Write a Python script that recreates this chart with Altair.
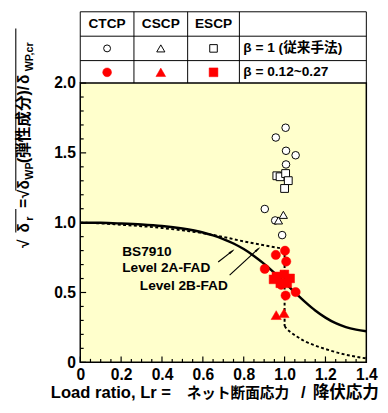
import altair as alt
import pandas as pd

FONT = "Liberation Sans, Arial, Noto Sans CJK JP, sans-serif"

# ---------------- data ----------------
# BS7910 Level 2A-FAD (solid)
lr_2a = [0, 0.1, 0.2, 0.3, 0.4, 0.5, 0.6, 0.65, 0.7, 0.75, 0.8, 0.85, 0.9, 0.95,
         1.0, 1.05, 1.1, 1.15, 1.2, 1.25, 1.3, 1.35, 1.4]
fr_2a = [1.0, 0.999, 0.994, 0.987, 0.976, 0.958, 0.930, 0.909, 0.883, 0.851, 0.811,
         0.762, 0.705, 0.641, 0.572, 0.501, 0.433, 0.371, 0.320, 0.280, 0.252, 0.234, 0.222]
# Level 2B-FAD (dotted), upper branch, drop at Lr = 1, lower branch
lr_2b_up = [0, 0.1, 0.2, 0.3, 0.4, 0.5, 0.6, 0.7, 0.8, 0.9, 1.0]
fr_2b_up = [1.0, 0.995, 0.985, 0.975, 0.962, 0.945, 0.925, 0.898, 0.866, 0.838, 0.812]
lr_2b_lo = [1.0, 1.01, 1.03, 1.06, 1.1, 1.15, 1.2, 1.27, 1.33, 1.4]
fr_2b_lo = [0.26, 0.24, 0.215, 0.185, 0.15, 0.12, 0.095, 0.065, 0.045, 0.028]
drop_lr = [1.0]
drop_top = [0.812]
drop_bot = [0.26]

# beta = 1 (open symbols)
ctcp_b1_lr = [1.005, 0.957, 1.007, 1.054, 1.007, 0.903, 0.988, 0.954]
ctcp_b1_fr = [1.680, 1.610, 1.515, 1.483, 1.417, 1.098, 0.911, 1.016]
escp_b1_lr = [0.962, 0.978, 1.005, 1.018, 1.000]
escp_b1_fr = [1.336, 1.329, 1.352, 1.301, 1.245]
cscp_b1_lr = [0.994, 0.970]
cscp_b1_fr = [1.056, 1.016]
# beta = 0.12~0.27 (red filled symbols)
ctcp_b2_lr = [1.002, 0.957, 1.008, 0.903, 0.983, 1.054, 1.005]
ctcp_b2_fr = [0.799, 0.769, 0.722, 0.669, 0.555, 0.503, 0.478]
escp_b2_lr = [0.960, 0.999, 1.027, 0.979, 1.013, 0.946]
escp_b2_fr = [0.615, 0.629, 0.601, 0.566, 0.566, 0.594]
cscp_b2_lr = [0.959, 0.997]
cscp_b2_fr = [0.338, 0.352]

x_tick_vals = [0, 0.2, 0.4, 0.6, 0.8, 1.0, 1.2, 1.4]
x_minor = [0.05, 0.1, 0.15, 0.25, 0.3, 0.35, 0.45, 0.5, 0.55, 0.65, 0.7, 0.75,
           0.85, 0.9, 0.95, 1.05, 1.1, 1.15, 1.25, 1.3, 1.35]
y_tick_vals = [0, 0.5, 1.0, 1.5, 2.0]
y_minor = [0.1, 0.2, 0.3, 0.4, 0.6, 0.7, 0.8, 0.9, 1.1, 1.2, 1.3, 1.4, 1.6, 1.7, 1.8, 1.9]

col_heads = ["CTCP", "CSCP", "ESCP"]
row_labels = ["β = 1 (従来手法)", "β = 0.12~0.27"]

# ---------------- chart ----------------
W, H = 293, 286
xs = alt.Scale(domain=[0, 1.4], nice=False, zero=False)
ys = alt.Scale(domain=[0, 2.0], nice=False, zero=False)
lab_expr = "datum.value == 0 ? '0' : format(datum.value, '.1f')"

xaxis = alt.Axis(values=x_tick_vals, labelExpr=lab_expr, ticks=False, tickSize=0, domain=False,
                 grid=False, title=None, labelFont=FONT, labelFontSize=16, labelFontWeight="bold",
                 labelColor="black", labelPadding=5, labelFlush=False, labelOverlap=False)
yaxis = alt.Axis(values=y_tick_vals, labelExpr=lab_expr, ticks=False, tickSize=0, domain=False,
                 grid=False, title=None, labelFont=FONT, labelFontSize=16, labelFontWeight="bold",
                 labelColor="black", labelPadding=5, labelFlush=False, labelOverlap=False)

one = pd.DataFrame({"k": [0]})


def X(f="Lr"):
    return alt.X(f + ":Q", scale=xs, axis=xaxis)


def Y(f="fr"):
    return alt.Y(f + ":Q", scale=ys, axis=yaxis)


def line(lr, fr, dash=None, width=2.5):
    kw = dict(color="black", strokeWidth=width, interpolate="monotone")
    if dash:
        kw["strokeDash"] = dash
    return alt.Chart(pd.DataFrame({"Lr": lr, "fr": fr})).mark_line(**kw).encode(x=X(), y=Y())


def pts(lr, fr, shape, size, fill, stroke, sw=1.0):
    return alt.Chart(pd.DataFrame({"Lr": lr, "fr": fr})).mark_point(
        shape=shape, size=size, filled=True, fill=fill, stroke=stroke, strokeWidth=sw, opacity=1
    ).encode(x=X(), y=Y())


def txt(s, x, y, size, align="left", baseline="alphabetic", angle=0, color="black"):
    return alt.Chart(one).mark_text(
        text=s, align=align, baseline=baseline, angle=angle, font=FONT, fontSize=size,
        fontWeight="bold", color=color
    ).encode(x=alt.value(x), y=alt.value(y))


def rule_px(x1, y1, x2, y2, w=1.0, color="black"):
    return alt.Chart(one).mark_rule(color=color, strokeWidth=w).encode(
        x=alt.value(x1), y=alt.value(y1), x2=alt.value(x2), y2=alt.value(y2))


def sym_px(x, y, shape, size, fill, stroke, sw=1.0):
    return alt.Chart(one).mark_point(shape=shape, size=size, filled=True, fill=fill, stroke=stroke,
                                     strokeWidth=sw, opacity=1).encode(x=alt.value(x), y=alt.value(y))


layers = []
# curves
layers.append(line(lr_2a, fr_2a))
layers.append(line(lr_2b_up, fr_2b_up, dash=[3, 2.5], width=2))
layers.append(line(lr_2b_lo, fr_2b_lo, dash=[3, 2.5], width=2))
layers.append(alt.Chart(pd.DataFrame({"Lr": drop_lr, "fr": drop_top, "fr2": drop_bot})).mark_rule(
    color="black", strokeWidth=2, strokeDash=[3, 2.5]).encode(x=X(), y=Y(), y2="fr2:Q"))

# ticks (inside)
layers.append(alt.Chart(pd.DataFrame({"Lr": x_tick_vals})).mark_rule(color="black", strokeWidth=1.2).encode(
    x=X(), y=alt.value(H), y2=alt.value(H - 6)))
layers.append(alt.Chart(pd.DataFrame({"Lr": x_minor})).mark_rule(color="black", strokeWidth=1.2).encode(
    x=X(), y=alt.value(H), y2=alt.value(H - 3.5)))
layers.append(alt.Chart(pd.DataFrame({"fr": y_tick_vals})).mark_rule(color="black", strokeWidth=1.2).encode(
    y=Y(), x=alt.value(0), x2=alt.value(6)))
layers.append(alt.Chart(pd.DataFrame({"fr": y_minor})).mark_rule(color="black", strokeWidth=1.2).encode(
    y=Y(), x=alt.value(0), x2=alt.value(3.5)))

# arrows
arrow_df = pd.DataFrame({"Lr": [0.675, 0.731], "fr": [0.718, 0.624],
                         "Lr2": [0.745, 0.872], "fr2": [0.798, 0.814]})
layers.append(alt.Chart(arrow_df).mark_rule(color="black", strokeWidth=1.2).encode(
    x=X(), y=Y(), x2="Lr2:Q", y2="fr2:Q"))
head_df = pd.DataFrame({"Lr": [0.737, 0.864], "fr": [0.789, 0.803], "ang": [52, 48]})
layers.append(alt.Chart(head_df).mark_point(shape="wedge", size=45, filled=True, fill="black",
                                            stroke="black", strokeWidth=0.5, opacity=1).encode(
    x=X(), y=Y(), angle=alt.Angle("ang:Q", scale=None)))

# data points
layers.append(pts(ctcp_b1_lr, ctcp_b1_fr, "circle", 60, "white", "black"))
layers.append(pts(escp_b1_lr, escp_b1_fr, "square", 64, "white", "black"))
layers.append(pts(cscp_b1_lr, cscp_b1_fr, "triangle-up", 70, "white", "black"))
layers.append(pts(escp_b2_lr, escp_b2_fr, "square", 81, "red", "red", 0.5))
layers.append(pts(ctcp_b2_lr, ctcp_b2_fr, "circle", 90, "red", "red", 0.5))
layers.append(pts(cscp_b2_lr, cscp_b2_fr, "triangle-up", 110, "red", "red", 0.5))

# curve labels
layers.append(txt("BS7910", 43, 177, 14))
layers.append(txt("Level 2A-FAD", 43, 193, 14))
layers.append(txt("Level 2B-FAD", 61, 211.5, 14))

# legend table above the plot
for yy in [-73, -48, -23]:
    layers.append(rule_px(0, yy, W, yy, 1))
for xx in [0, 55, 110, 163, W]:
    layers.append(rule_px(xx, -73, xx, 0, 1))
for cx, s in zip([27.5, 82.5, 136.5], col_heads):
    layers.append(txt(s, cx, -60.5, 14, align="center", baseline="middle"))
layers.append(sym_px(27.5, -35.5, "circle", 50, "white", "black"))
layers.append(sym_px(82.5, -35.5, "triangle-up", 70, "white", "black"))
layers.append(sym_px(136.5, -35.5, "square", 60, "white", "black"))
layers.append(sym_px(27.5, -11, "circle", 81, "red", "red", 0.5))
layers.append(sym_px(82.5, -11, "triangle-up", 100, "red", "red", 0.5))
layers.append(sym_px(136.5, -11, "square", 81, "red", "red", 0.5))
layers.append(txt(row_labels[0], 167, -35.5, 14, baseline="middle"))
layers.append(txt(row_labels[1], 167, -11, 14, baseline="middle"))

# y-axis title (built from pieces, rotated)
A = 270
layers.append(txt("√", -52, 169, 16, angle=A))
layers.append(rule_px(-66, 153, -66.01, 129, 1.1))
layers.append(txt("δ", -52, 153, 16, angle=A))
layers.append(txt("r", -48, 141, 11, angle=A))
layers.append(txt("=", -52, 128, 16, angle=A))
layers.append(txt("√", -52, 118, 16, angle=A))
layers.append(rule_px(-66, 110, -66.01, -56, 1.1))
layers.append(txt("δ", -52, 109, 16, angle=A))
layers.append(txt("WP", -48, 99, 11, angle=A))
layers.append(txt("(弾性成分)/", -52, 82, 16, angle=A))
layers.append(txt("δ", -52, 1, 16, angle=A))
layers.append(txt("WP,cr", -48, -12, 11, angle=A))

# x-axis title (pieces)
layers.append(txt("Load ratio, Lr =", 93, 323, 17, align="right"))
layers.append(txt("ネット断面応力", 109, 323, 15))
layers.append(txt("/", 226, 323, 17))
layers.append(txt("降伏応力", 238, 323, 17))

chart = alt.layer(*layers).properties(
    width=W, height=H,
    autosize=alt.AutoSizeParams(type="none"),
    padding={"left": 74, "top": 72, "right": 14, "bottom": 45},
).configure_view(fill="#FFFFCC", stroke="black", strokeWidth=1.5)

chart.save("out.html", embed_options={"renderer": "svg", "actions": False})
